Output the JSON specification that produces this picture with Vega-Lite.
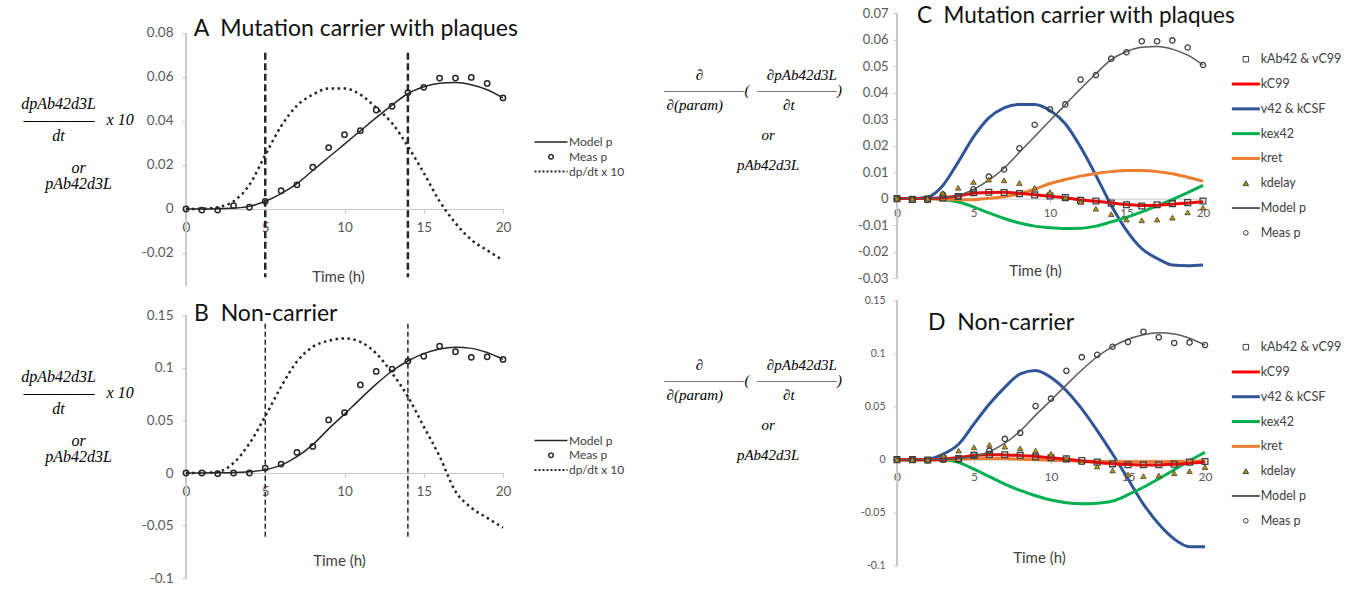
{
"$schema": "https://vega.github.io/schema/vega-lite/v6.json",
"background": "white",
"padding": {"left": 20, "top": 4, "right": 5, "bottom": 5},
"datasets": {
"vl": [{"t": 5}, {"t": 14}],
"car": [
{"t":0,"model":0,"meas":0,"dpdt":0,"sq":0,"red":0,"blue":0,"green":0,"orange":0,"tri":0},
{"t":1,"model":0,"meas":-0.0005,"dpdt":0.0001,"sq":-0.0003,"red":0,"blue":0,"green":0,"orange":0,"tri":0},
{"t":2,"model":0.0001,"meas":-0.0005,"dpdt":0.0008,"sq":-0.0002,"red":0,"blue":0.0006,"green":0,"orange":0,"tri":0},
{"t":3,"model":0.0004,"meas":0.0015,"dpdt":0.0035,"sq":0.0002,"red":0.0003,"blue":0.005,"green":-0.0003,"orange":-0.0002,"tri":0.0021},
{"t":4,"model":0.0012,"meas":0.0008,"dpdt":0.011,"sq":0.0008,"red":0.001,"blue":0.0138,"green":-0.0013,"orange":-0.0004,"tri":0.0041},
{"t":5,"model":0.0035,"meas":0.0035,"dpdt":0.0245,"sq":0.0022,"red":0.002,"blue":0.0233,"green":-0.0031,"orange":-0.0004,"tri":0.0063},
{"t":6,"model":0.007,"meas":0.0083,"dpdt":0.0376,"sq":0.0024,"red":0.0023,"blue":0.0305,"green":-0.0054,"orange":0.0001,"tri":0.0072},
{"t":7,"model":0.0115,"meas":0.011,"dpdt":0.047,"sq":0.0023,"red":0.0024,"blue":0.0343,"green":-0.0075,"orange":0.0007,"tri":0.0069},
{"t":8,"model":0.0175,"meas":0.019,"dpdt":0.052,"sq":0.0019,"red":0.002,"blue":0.0356,"green":-0.0092,"orange":0.0018,"tri":0.0059},
{"t":9,"model":0.0235,"meas":0.0279,"dpdt":0.0548,"sq":0.0014,"red":0.0015,"blue":0.0356,"green":-0.0104,"orange":0.0036,"tri":0.0041},
{"t":10,"model":0.0295,"meas":0.0338,"dpdt":0.0548,"sq":0.001,"red":0.0009,"blue":0.0333,"green":-0.011,"orange":0.0057,"tri":0.0025},
{"t":11,"model":0.0355,"meas":0.0356,"dpdt":0.052,"sq":0.0004,"red":0.0003,"blue":0.0283,"green":-0.0113,"orange":0.0072,"tri":0.0004},
{"t":12,"model":0.0415,"meas":0.045,"dpdt":0.046,"sq":-0.0006,"red":-0.0005,"blue":0.0195,"green":-0.0112,"orange":0.0085,"tri":-0.0013},
{"t":13,"model":0.0472,"meas":0.0467,"dpdt":0.039,"sq":-0.0009,"red":-0.001,"blue":0.0088,"green":-0.0104,"orange":0.0095,"tri":-0.0038},
{"t":14,"model":0.0525,"meas":0.0529,"dpdt":0.0285,"sq":-0.0017,"red":-0.0016,"blue":-0.0025,"green":-0.0088,"orange":0.0102,"tri":-0.0059},
{"t":15,"model":0.0556,"meas":0.0553,"dpdt":0.0164,"sq":-0.0023,"red":-0.0022,"blue":-0.012,"green":-0.0071,"orange":0.0106,"tri":-0.0079},
{"t":16,"model":0.0572,"meas":0.0595,"dpdt":0.0035,"sq":-0.0028,"red":-0.0026,"blue":-0.0189,"green":-0.005,"orange":0.0106,"tri":-0.0082},
{"t":17,"model":0.0575,"meas":0.0595,"dpdt":-0.0064,"sq":-0.0023,"red":-0.0025,"blue":-0.0226,"green":-0.0027,"orange":0.0102,"tri":-0.0079},
{"t":18,"model":0.0565,"meas":0.0598,"dpdt":-0.014,"sq":-0.0019,"red":-0.0021,"blue":-0.0251,"green":-0.0004,"orange":0.0094,"tri":-0.0072},
{"t":19,"model":0.0542,"meas":0.0571,"dpdt":-0.0188,"sq":-0.0015,"red":-0.0017,"blue":-0.0254,"green":0.0023,"orange":0.0081,"tri":-0.0052},
{"t":20,"model":0.0505,"meas":0.0505,"dpdt":-0.0233,"sq":-0.0009,"red":-0.0012,"blue":-0.0251,"green":0.005,"orange":0.0066,"tri":-0.0034}
],
"non": [
{"t":0,"model":0,"meas":0,"dpdt":0,"sq":0,"red":0,"blue":0,"green":0,"orange":0,"tri":0},
{"t":1,"model":0,"meas":0,"dpdt":0.0002,"sq":0,"red":0,"blue":0,"green":0,"orange":0,"tri":0},
{"t":2,"model":0.0002,"meas":-0.0006,"dpdt":0.001,"sq":-0.0003,"red":0,"blue":0.0005,"green":0,"orange":0,"tri":0},
{"t":3,"model":0.0005,"meas":0,"dpdt":0.0095,"sq":0.0008,"red":0.0005,"blue":0.0053,"green":0,"orange":0,"tri":0.0038},
{"t":4,"model":0.0012,"meas":0,"dpdt":0.028,"sq":0.001,"red":0.002,"blue":0.0145,"green":-0.0025,"orange":0.0005,"tri":0.0085},
{"t":5,"model":0.003,"meas":0.0047,"dpdt":0.054,"sq":0.004,"red":0.004,"blue":0.0337,"green":-0.009,"orange":0.001,"tri":0.0116},
{"t":6,"model":0.0075,"meas":0.0085,"dpdt":0.082,"sq":0.0049,"red":0.0046,"blue":0.0525,"green":-0.016,"orange":0.0012,"tri":0.014},
{"t":7,"model":0.0155,"meas":0.0196,"dpdt":0.106,"sq":0.0046,"red":0.0045,"blue":0.0682,"green":-0.023,"orange":0.001,"tri":0.0123},
{"t":8,"model":0.027,"meas":0.0253,"dpdt":0.12,"sq":0.004,"red":0.004,"blue":0.0808,"green":-0.029,"orange":0.0005,"tri":0.0107},
{"t":9,"model":0.042,"meas":0.0505,"dpdt":0.1257,"sq":0.0026,"red":0.003,"blue":0.084,"green":-0.034,"orange":0,"tri":0.0085},
{"t":10,"model":0.056,"meas":0.0575,"dpdt":0.128,"sq":0.0018,"red":0.0018,"blue":0.0775,"green":-0.038,"orange":-0.0005,"tri":0.0055},
{"t":11,"model":0.0705,"meas":0.0837,"dpdt":0.1247,"sq":0.0008,"red":0.0004,"blue":0.065,"green":-0.0405,"orange":-0.001,"tri":0.0017},
{"t":12,"model":0.0845,"meas":0.0966,"dpdt":0.1137,"sq":-0.0008,"red":-0.0012,"blue":0.0478,"green":-0.0415,"orange":-0.0014,"tri":-0.0023},
{"t":13,"model":0.097,"meas":0.0988,"dpdt":0.095,"sq":-0.0023,"red":-0.0026,"blue":0.0274,"green":-0.041,"orange":-0.0017,"tri":-0.0064},
{"t":14,"model":0.1065,"meas":0.1064,"dpdt":0.0726,"sq":-0.0039,"red":-0.0038,"blue":0.0053,"green":-0.039,"orange":-0.0019,"tri":-0.0102},
{"t":15,"model":0.1135,"meas":0.111,"dpdt":0.0442,"sq":-0.0048,"red":-0.0046,"blue":-0.0182,"green":-0.033,"orange":-0.002,"tri":-0.014},
{"t":16,"model":0.1178,"meas":0.1206,"dpdt":0.0158,"sq":-0.0048,"red":-0.005,"blue":-0.0418,"green":-0.026,"orange":-0.002,"tri":-0.0155},
{"t":17,"model":0.1195,"meas":0.1153,"dpdt":-0.0174,"sq":-0.0048,"red":-0.0049,"blue":-0.0607,"green":-0.018,"orange":-0.0019,"tri":-0.0149},
{"t":18,"model":0.1185,"meas":0.11,"dpdt":-0.033,"sq":-0.0042,"red":-0.0044,"blue":-0.0748,"green":-0.0095,"orange":-0.0017,"tri":-0.0127},
{"t":19,"model":0.1145,"meas":0.1105,"dpdt":-0.0426,"sq":-0.0023,"red":-0.0034,"blue":-0.082,"green":-0.001,"orange":-0.0014,"tri":-0.0108},
{"t":20,"model":0.108,"meas":0.108,"dpdt":-0.052,"sq":-0.0017,"red":-0.0022,"blue":-0.082,"green":0.007,"orange":-0.001,"tri":-0.007}
]
},
"config": {
"view": {"stroke": null},
"font": "Lato",
"axis": {"grid": false, "labelFont": "Lato", "titleFont": "Lato", "labelColor": "#595959", "tickColor": "#c8c8c8", "domainColor": "#c8c8c8", "labelFlush": false, "titleFontWeight": "normal", "labelOverlap": false},
"legend": {"labelFont": "Lato", "labelColor": "#404040"},
"title": {"font": "Lato", "fontWeight": "normal", "color": "#111111", "fontSize": 23, "anchor": "start", "frame": "group", "baseline": "alphabetic"}
},
"spacing": 27,
"resolve": {"scale": {"color": "independent", "x": "independent", "y": "independent"}, "legend": {"color": "independent"}},
"hconcat": [
{
"spacing": 13.2,
"resolve": {"scale": {"color": "independent", "x": "independent", "y": "independent"}, "legend": {"color": "independent"}},
"vconcat": [
{
"width": 317, "height": 282,
"title": {"text": "A\u00a0 Mutation carrier with plaques", "offset": -36.7, "dx": 7.7},
"data": {"name": "car"},
"encoding": {"x": {"field": "t", "type": "quantitative", "scale": {"domain": [0, 20], "nice": false, "zero": false},
  "axis": {"title": "Time (h)", "values": [0, 5, 10, 15, 20], "tickCount": 5, "offset": -77, "tickSize": 4, "labelPadding": 7, "labelFontSize": 13.5, "labelOverlap": false, "titleFontSize": 15, "titleColor": "#404040", "titleX": 152, "titleY": 67.5, "titleBaseline": "middle"}}},
"layer": [
{"mark": {"type": "rule", "color": "#c8c8c8", "strokeWidth": 1}, "encoding": {"x": {"datum": 0, "type": "quantitative"}, "y": {"datum": -0.035, "type": "quantitative", "scale": {"domain": [-0.035, 0.09318], "nice": false, "zero": false}}, "y2": {"datum": 0.08}}},
{"data": {"name": "vl"}, "mark": {"type": "rule", "color": "#262626", "strokeWidth": 2.5, "strokeDash": [7, 3.5]}, "encoding": {"y": {"datum": 0.071, "type": "quantitative", "scale": {"domain": [-0.035, 0.09318], "nice": false, "zero": false}}, "y2": {"datum": -0.031}}},
{"mark": {"type": "line", "interpolate": "monotone", "strokeWidth": 2.5, "strokeDash": [2.5, 3.5]},
 "encoding": {"y": {"field": "dpdt", "type": "quantitative", "scale": {"domain": [-0.035, 0.09318], "nice": false, "zero": false}},
  "color": {"datum": "dp/dt x 10", "scale": {"domain": ["Model p", "Meas p", "dp/dt x 10"], "range": ["#262626", "#262626", "#262626"]},
   "legend": {"title": null, "orient": "none", "legendX": 359, "legendY": 132, "padding": 0, "symbolSize": 121, "labelFontSize": 12, "labelOffset": 12, "rowPadding": 2.8,
    "encode": {"symbols": {"update": {
     "shape": {"signal": "datum.value === 'Meas p' ? 'circle' : 'M-3,0H3'"},
     "size": {"signal": "datum.value === 'Meas p' ? 20 : 121"},
     "strokeDash": {"signal": "datum.value === 'dp/dt x 10' ? [2,2] : [1,0]"},
     "stroke": {"value": "#262626"},
     "fill": {"value": "transparent"},
     "strokeWidth": {"signal": "datum.value === 'dp/dt x 10' ? 2 : 1.5"},
     "opacity": {"value": 1}}}}}}}},
{"mark": {"type": "line", "interpolate": "monotone", "strokeWidth": 1.5},
 "encoding": {"y": {"field": "model", "type": "quantitative", "scale": {"domain": [-0.035, 0.09318], "nice": false, "zero": false},
  "axis": {"title": ["dpAb42d3L\u00a0\u00a0\u00a0\u00a0\u00a0\u00a0\u00a0\u00a0\u00a0\u00a0\u200b", "\u2014\u2014\u2014\u2014\u2014\u00a0\u00a0\u00a0x\u00a010", "dt\u00a0\u00a0\u00a0\u00a0\u00a0\u00a0\u00a0\u00a0\u00a0\u00a0\u200b", "\u200b\u00a0\u200b", "or", "pAb42d3L"],
   "values": [-0.02, 0, 0.02, 0.04, 0.06, 0.08], "tickCount": 20, "labelExpr": "toString(datum.value)", "domain": false, "tickSize": 4, "labelPadding": 9, "labelFontSize": 13.5, "labelOverlap": false,
   "titleAngle": 0, "titleAlign": "center", "titleBaseline": "middle", "titleX": -108, "titleY": 99, "titleFont": "Liberation Serif", "titleFontStyle": "italic", "titleFontSize": 16, "titleLineHeight": 16, "titleColor": "#000000"}},
  "color": {"datum": "Model p"}}},
{"mark": {"type": "point", "filled": false, "size": 28, "strokeWidth": 1.5, "opacity": 1},
 "encoding": {"y": {"field": "meas", "type": "quantitative", "scale": {"domain": [-0.035, 0.09318], "nice": false, "zero": false}}, "color": {"datum": "Meas p"}}}
]
},
{
"width": 317, "height": 278,
"title": {"text": "B\u00a0 Non-carrier", "offset": -25.7, "dx": 8},
"data": {"name": "non"},
"encoding": {"x": {"field": "t", "type": "quantitative", "scale": {"domain": [0, 20], "nice": false, "zero": false},
  "axis": {"title": "Time (h)", "values": [0, 5, 10, 15, 20], "tickCount": 5, "offset": -105.2, "tickSize": 4, "labelPadding": 7.6, "labelFontSize": 13.5, "labelOverlap": false, "titleFontSize": 15, "titleColor": "#404040", "titleX": 153, "titleY": 87.2, "titleBaseline": "middle"}}},
"layer": [
{"mark": {"type": "rule", "color": "#c8c8c8", "strokeWidth": 1}, "encoding": {"x": {"datum": 0, "type": "quantitative"}, "y": {"datum": -0.1, "type": "quantitative", "scale": {"domain": [-0.1, 0.1643], "nice": false, "zero": false}}, "y2": {"datum": 0.15}}},
{"data": {"name": "vl"}, "mark": {"type": "rule", "color": "#262626", "strokeWidth": 1.5, "strokeDash": [5, 3]}, "encoding": {"y": {"datum": 0.142, "type": "quantitative", "scale": {"domain": [-0.1, 0.1643], "nice": false, "zero": false}}, "y2": {"datum": -0.062}}},
{"mark": {"type": "line", "interpolate": "monotone", "strokeWidth": 2.5, "strokeDash": [2.5, 3.5]},
 "encoding": {"y": {"field": "dpdt", "type": "quantitative", "scale": {"domain": [-0.1, 0.1643], "nice": false, "zero": false}},
  "color": {"datum": "dp/dt x 10", "scale": {"domain": ["Model p", "Meas p", "dp/dt x 10"], "range": ["#262626", "#262626", "#262626"]},
   "legend": {"title": null, "orient": "none", "legendX": 359, "legendY": 134.3, "padding": 0, "symbolSize": 121, "labelFontSize": 12, "labelOffset": 12, "rowPadding": 2.8,
    "encode": {"symbols": {"update": {
     "shape": {"signal": "datum.value === 'Meas p' ? 'circle' : 'M-3,0H3'"},
     "size": {"signal": "datum.value === 'Meas p' ? 20 : 121"},
     "strokeDash": {"signal": "datum.value === 'dp/dt x 10' ? [2,2] : [1,0]"},
     "stroke": {"value": "#262626"},
     "fill": {"value": "transparent"},
     "strokeWidth": {"signal": "datum.value === 'dp/dt x 10' ? 2 : 1.5"},
     "opacity": {"value": 1}}}}}}}},
{"mark": {"type": "line", "interpolate": "monotone", "strokeWidth": 1.5},
 "encoding": {"y": {"field": "model", "type": "quantitative", "scale": {"domain": [-0.1, 0.1643], "nice": false, "zero": false},
  "axis": {"title": ["dpAb42d3L\u00a0\u00a0\u00a0\u00a0\u00a0\u00a0\u00a0\u00a0\u00a0\u00a0\u200b", "\u2014\u2014\u2014\u2014\u2014\u00a0\u00a0\u00a0x\u00a010", "dt\u00a0\u00a0\u00a0\u00a0\u00a0\u00a0\u00a0\u00a0\u00a0\u00a0\u200b", "\u200b\u00a0\u200b", "or", "pAb42d3L"],
   "values": [-0.1, -0.05, 0, 0.05, 0.1, 0.15], "tickCount": 20, "labelExpr": "toString(datum.value)", "domain": false, "tickSize": 4, "labelPadding": 9, "labelFontSize": 13.5, "labelOverlap": false,
   "titleAngle": 0, "titleAlign": "center", "titleBaseline": "middle", "titleX": -108, "titleY": 76.3, "titleFont": "Liberation Serif", "titleFontStyle": "italic", "titleFontSize": 16, "titleLineHeight": 16, "titleColor": "#000000"}},
  "color": {"datum": "Model p"}}},
{"mark": {"type": "point", "filled": false, "size": 28, "strokeWidth": 1.5, "opacity": 1},
 "encoding": {"y": {"field": "meas", "type": "quantitative", "scale": {"domain": [-0.1, 0.1643], "nice": false, "zero": false}}, "color": {"datum": "Meas p"}}}
]
}
]
},
{
"spacing": 10.5,
"resolve": {"scale": {"color": "independent", "x": "independent", "y": "independent"}, "legend": {"color": "independent"}},
"vconcat": [
{
"width": 306, "height": 274,
"title": {"text": "C\u00a0 Mutation carrier with plaques", "offset": -23, "dx": 20, "fontSize": 22.5},
"data": {"name": "car"},
"encoding": {"x": {"field": "t", "type": "quantitative", "scale": {"domain": [0, 20], "nice": false, "zero": false},
  "axis": {"title": "Time (h)", "values": [0, 5, 10, 15, 20], "tickCount": 5, "offset": -79.4, "tickSize": 4, "labelPadding": 5, "labelFontSize": 11.5, "labelOverlap": false, "titleFontSize": 15, "titleColor": "#404040", "titleX": 138, "titleY": 72, "titleBaseline": "middle"}}},
"layer": [
{"mark": {"type": "rule", "color": "#c8c8c8", "strokeWidth": 1}, "encoding": {"x": {"datum": 0, "type": "quantitative"}, "y": {"datum": -0.03, "type": "quantitative", "scale": {"domain": [-0.03, 0.07355], "nice": false, "zero": false}}, "y2": {"datum": 0.07}}},
{"mark": {"type": "line", "interpolate": "monotone", "strokeWidth": 3},
 "encoding": {"y": {"field": "blue", "type": "quantitative", "scale": {"domain": [-0.03, 0.07355], "nice": false, "zero": false}},
  "color": {"datum": "v42 & kCSF", "scale": {"domain": ["kAb42 & vC99", "kC99", "v42 & kCSF", "kex42", "kret", "kdelay", "Model p", "Meas p"], "range": ["#404040", "#ff0000", "#2f5597", "#00b050", "#ed7d31", "#404040", "#595959", "#404040"]},
   "legend": {"title": null, "orient": "none", "legendX": 342.6, "legendY": 49, "padding": 0, "symbolSize": 87, "labelFontSize": 12.5, "labelOffset": 8.6, "rowPadding": 11.8,
    "encode": {"symbols": {"update": {
     "shape": {"signal": "datum.value === 'kAb42 & vC99' ? 'square' : datum.value === 'kdelay' ? 'triangle-up' : datum.value === 'Meas p' ? 'circle' : 'M-3,0H3'"},
     "size": {"signal": "datum.value === 'kAb42 & vC99' ? 30 : datum.value === 'kdelay' ? 30 : datum.value === 'Meas p' ? 22 : 87"},
     "stroke": {"signal": "datum.value === 'kC99' ? '#ff0000' : datum.value === 'v42 & kCSF' ? '#2f5597' : datum.value === 'kex42' ? '#00b050' : datum.value === 'kret' ? '#ed7d31' : datum.value === 'Model p' ? '#595959' : '#404040'"},
     "fill": {"signal": "datum.value === 'kdelay' ? '#bf9000' : 'transparent'"},
     "strokeWidth": {"signal": "datum.value === 'kAb42 & vC99' || datum.value === 'kdelay' || datum.value === 'Meas p' ? 1 : datum.value === 'Model p' ? 2 : 3"},
     "opacity": {"value": 1}}}}}}}},
{"mark": {"type": "line", "interpolate": "monotone", "strokeWidth": 3},
 "encoding": {"y": {"field": "green", "type": "quantitative", "scale": {"domain": [-0.03, 0.07355], "nice": false, "zero": false}}, "color": {"datum": "kex42"}}},
{"mark": {"type": "line", "interpolate": "monotone", "strokeWidth": 3},
 "encoding": {"y": {"field": "orange", "type": "quantitative", "scale": {"domain": [-0.03, 0.07355], "nice": false, "zero": false}}, "color": {"datum": "kret"}}},
{"mark": {"type": "line", "interpolate": "monotone", "strokeWidth": 3},
 "encoding": {"y": {"field": "red", "type": "quantitative", "scale": {"domain": [-0.03, 0.07355], "nice": false, "zero": false}}, "color": {"datum": "kC99"}}},
{"mark": {"type": "line", "interpolate": "monotone", "strokeWidth": 1.5},
 "encoding": {"y": {"field": "model", "type": "quantitative", "scale": {"domain": [-0.03, 0.07355], "nice": false, "zero": false},
  "axis": {"title": ["\u200b\u00a0\u00a0\u00a0\u00a0\u00a0\u00a0\u00a0\u00a0\u00a0\u00a0\u2202\u00a0\u00a0\u00a0\u00a0\u00a0\u00a0\u00a0\u00a0\u00a0\u00a0\u00a0\u00a0\u00a0\u00a0\u00a0\u00a0\u00a0\u2202pAb42d3L", "\u200b\u00a0\u00a0\u00a0\u2014\u2014\u2014\u2014\u2014\u2014(\u00a0\u00a0\u2014\u2014\u2014\u2014\u2014\u2014)", "\u2202(param)\u00a0\u00a0\u00a0\u00a0\u00a0\u00a0\u00a0\u00a0\u00a0\u00a0\u00a0\u00a0\u00a0\u00a0\u00a0\u00a0\u2202t\u00a0\u00a0\u00a0\u00a0\u00a0\u00a0\u00a0\u00a0\u00a0\u200b", "\u200b\u00a0\u200b", "\u200b\u00a0\u00a0\u00a0\u00a0\u00a0\u00a0\u00a0\u00a0\u00a0\u00a0\u00a0or", "\u200b\u00a0\u200b", "\u200b\u00a0\u00a0\u00a0\u00a0\u00a0\u00a0\u00a0\u00a0\u00a0\u00a0\u00a0pAb42d3L"],
   "values": [-0.03, -0.02, -0.01, 0, 0.01, 0.02, 0.03, 0.04, 0.05, 0.06, 0.07], "tickCount": 20, "labelExpr": "toString(datum.value)", "domain": false, "tickSize": 4, "labelPadding": 5, "labelFontSize": 13, "labelOverlap": false,
   "titleAngle": 0, "titleAlign": "center", "titleBaseline": "middle", "titleX": -150, "titleY": 70.7, "titleFont": "Liberation Serif", "titleFontStyle": "italic", "titleFontSize": 15, "titleLineHeight": 15, "titleColor": "#000000"}},
  "color": {"datum": "Model p"}}},
{"mark": {"type": "point", "filled": false, "size": 28, "strokeWidth": 1.3, "opacity": 1},
 "encoding": {"y": {"field": "meas", "type": "quantitative", "scale": {"domain": [-0.03, 0.07355], "nice": false, "zero": false}}, "color": {"datum": "Meas p"}}},
{"mark": {"type": "point", "shape": "square", "filled": false, "size": 34, "strokeWidth": 1.3, "opacity": 1},
 "encoding": {"y": {"field": "sq", "type": "quantitative", "scale": {"domain": [-0.03, 0.07355], "nice": false, "zero": false}}, "color": {"datum": "kAb42 & vC99"}}},
{"mark": {"type": "point", "shape": "triangle-up", "filled": false, "fill": "#bf9000", "fillOpacity": 1, "size": 30, "strokeWidth": 0.8, "opacity": 1},
 "encoding": {"y": {"field": "tri", "type": "quantitative", "scale": {"domain": [-0.03, 0.07355], "nice": false, "zero": false}}, "color": {"datum": "kdelay"}}}
]
},
{
"width": 308, "height": 265.3,
"title": {"text": "D\u00a0 Non-carrier", "offset": -39.8, "dx": 31},
"data": {"name": "non"},
"encoding": {"x": {"field": "t", "type": "quantitative", "scale": {"domain": [0, 20], "nice": false, "zero": false},
  "axis": {"title": "Time (h)", "values": [0, 5, 10, 15, 20], "tickCount": 5, "offset": -106.1, "tickSize": 4, "labelPadding": 7.8, "labelFontSize": 12, "labelOverlap": false, "titleFontSize": 15, "titleColor": "#404040", "titleX": 142, "titleY": 97.8, "titleBaseline": "middle"}}},
"layer": [
{"mark": {"type": "rule", "color": "#c8c8c8", "strokeWidth": 1}, "encoding": {"x": {"datum": 0, "type": "quantitative"}, "y": {"datum": -0.1, "type": "quantitative", "scale": {"domain": [-0.1, 0.15], "nice": false, "zero": false}}, "y2": {"datum": 0.15}}},
{"mark": {"type": "line", "interpolate": "monotone", "strokeWidth": 3},
 "encoding": {"y": {"field": "blue", "type": "quantitative", "scale": {"domain": [-0.1, 0.15], "nice": false, "zero": false}},
  "color": {"datum": "v42 & kCSF", "scale": {"domain": ["kAb42 & vC99", "kC99", "v42 & kCSF", "kex42", "kret", "kdelay", "Model p", "Meas p"], "range": ["#404040", "#ff0000", "#2f5597", "#00b050", "#ed7d31", "#404040", "#595959", "#404040"]},
   "legend": {"title": null, "orient": "none", "legendX": 342.6, "legendY": 40.4, "padding": 0, "symbolSize": 87, "labelFontSize": 12.5, "labelOffset": 8.6, "rowPadding": 11.8,
    "encode": {"symbols": {"update": {
     "shape": {"signal": "datum.value === 'kAb42 & vC99' ? 'square' : datum.value === 'kdelay' ? 'triangle-up' : datum.value === 'Meas p' ? 'circle' : 'M-3,0H3'"},
     "size": {"signal": "datum.value === 'kAb42 & vC99' ? 30 : datum.value === 'kdelay' ? 30 : datum.value === 'Meas p' ? 22 : 87"},
     "stroke": {"signal": "datum.value === 'kC99' ? '#ff0000' : datum.value === 'v42 & kCSF' ? '#2f5597' : datum.value === 'kex42' ? '#00b050' : datum.value === 'kret' ? '#ed7d31' : datum.value === 'Model p' ? '#595959' : '#404040'"},
     "fill": {"signal": "datum.value === 'kdelay' ? '#bf9000' : 'transparent'"},
     "strokeWidth": {"signal": "datum.value === 'kAb42 & vC99' || datum.value === 'kdelay' || datum.value === 'Meas p' ? 1 : datum.value === 'Model p' ? 2 : 3"},
     "opacity": {"value": 1}}}}}}}},
{"mark": {"type": "line", "interpolate": "monotone", "strokeWidth": 3},
 "encoding": {"y": {"field": "green", "type": "quantitative", "scale": {"domain": [-0.1, 0.15], "nice": false, "zero": false}}, "color": {"datum": "kex42"}}},
{"mark": {"type": "line", "interpolate": "monotone", "strokeWidth": 3},
 "encoding": {"y": {"field": "orange", "type": "quantitative", "scale": {"domain": [-0.1, 0.15], "nice": false, "zero": false}}, "color": {"datum": "kret"}}},
{"mark": {"type": "line", "interpolate": "monotone", "strokeWidth": 3},
 "encoding": {"y": {"field": "red", "type": "quantitative", "scale": {"domain": [-0.1, 0.15], "nice": false, "zero": false}}, "color": {"datum": "kC99"}}},
{"mark": {"type": "line", "interpolate": "monotone", "strokeWidth": 1.5},
 "encoding": {"y": {"field": "model", "type": "quantitative", "scale": {"domain": [-0.1, 0.15], "nice": false, "zero": false},
  "axis": {"title": ["\u200b\u00a0\u00a0\u00a0\u00a0\u00a0\u00a0\u00a0\u00a0\u00a0\u00a0\u2202\u00a0\u00a0\u00a0\u00a0\u00a0\u00a0\u00a0\u00a0\u00a0\u00a0\u00a0\u00a0\u00a0\u00a0\u00a0\u00a0\u00a0\u2202pAb42d3L", "\u200b\u00a0\u00a0\u00a0\u2014\u2014\u2014\u2014\u2014\u2014(\u00a0\u00a0\u2014\u2014\u2014\u2014\u2014\u2014)", "\u2202(param)\u00a0\u00a0\u00a0\u00a0\u00a0\u00a0\u00a0\u00a0\u00a0\u00a0\u00a0\u00a0\u00a0\u00a0\u00a0\u00a0\u2202t\u00a0\u00a0\u00a0\u00a0\u00a0\u00a0\u00a0\u00a0\u00a0\u200b", "\u200b\u00a0\u200b", "\u200b\u00a0\u00a0\u00a0\u00a0\u00a0\u00a0\u00a0\u00a0\u00a0\u00a0\u00a0or", "\u200b\u00a0\u200b", "\u200b\u00a0\u00a0\u00a0\u00a0\u00a0\u00a0\u00a0\u00a0\u00a0\u00a0\u00a0pAb42d3L"],
   "values": [-0.1, -0.05, 0, 0.05, 0.1, 0.15], "tickCount": 20, "labelExpr": "toString(datum.value)", "domain": false, "tickSize": 4, "labelPadding": 8, "labelFontSize": 10.5, "labelOverlap": false,
   "titleAngle": 0, "titleAlign": "center", "titleBaseline": "middle", "titleX": -150, "titleY": 64, "titleFont": "Liberation Serif", "titleFontStyle": "italic", "titleFontSize": 15, "titleLineHeight": 15, "titleColor": "#000000"}},
  "color": {"datum": "Model p"}}},
{"mark": {"type": "point", "filled": false, "size": 28, "strokeWidth": 1.3, "opacity": 1},
 "encoding": {"y": {"field": "meas", "type": "quantitative", "scale": {"domain": [-0.1, 0.15], "nice": false, "zero": false}}, "color": {"datum": "Meas p"}}},
{"mark": {"type": "point", "shape": "square", "filled": false, "size": 34, "strokeWidth": 1.3, "opacity": 1},
 "encoding": {"y": {"field": "sq", "type": "quantitative", "scale": {"domain": [-0.1, 0.15], "nice": false, "zero": false}}, "color": {"datum": "kAb42 & vC99"}}},
{"mark": {"type": "point", "shape": "triangle-up", "filled": false, "fill": "#bf9000", "fillOpacity": 1, "size": 30, "strokeWidth": 0.8, "opacity": 1},
 "encoding": {"y": {"field": "tri", "type": "quantitative", "scale": {"domain": [-0.1, 0.15], "nice": false, "zero": false}}, "color": {"datum": "kdelay"}}}
]
}
]
}
]
}
